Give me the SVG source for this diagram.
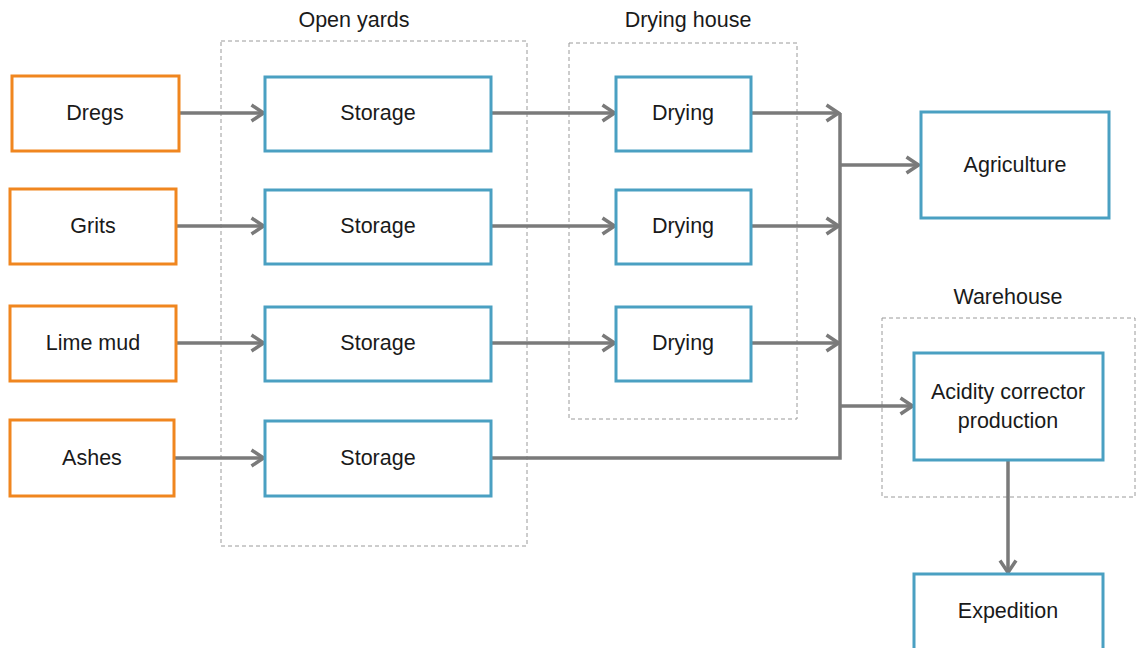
<svg xmlns="http://www.w3.org/2000/svg" width="1140" height="648" viewBox="0 0 1140 648">
  <style>
    .src { fill: #ffffff; stroke: #f0861f; stroke-width: 3; }
    .proc { fill: #ffffff; stroke: #4aa0c2; stroke-width: 3; }
    .zone { fill: none; stroke: #9a9a9a; stroke-width: 1; stroke-dasharray: 4 3; }
    .lbl { font-family: "Liberation Sans", Arial, sans-serif; font-size: 21.5px; fill: #1a1a1a; text-anchor: middle; dominant-baseline: central; }
    .conn { fill: none; stroke: #7a7a7a; stroke-width: 3.5; }
    .arr { marker-end: url(#chev); }
  </style>
  <defs>
    <marker id="chev" viewBox="0 0 16 20" refX="14.5" refY="10" markerWidth="16" markerHeight="20" markerUnits="userSpaceOnUse" orient="auto">
      <path d="M2,2 L14,10 L2,18" fill="none" stroke="#7a7a7a" stroke-width="3.5" stroke-linejoin="miter"/>
    </marker>
  </defs>
  <rect width="1140" height="648" fill="#ffffff"/>

  <!-- zones -->
  <g id="open-yards">
    <rect class="zone" x="221" y="41" width="306" height="505"/>
    <text class="lbl" x="354" y="20">Open yards</text>
  </g>
  <g id="drying-house">
    <rect class="zone" x="569" y="43" width="228" height="376"/>
    <text class="lbl" x="688" y="20">Drying house</text>
  </g>
  <g id="warehouse">
    <rect class="zone" x="882" y="318" width="253" height="179"/>
    <text class="lbl" x="1008" y="297">Warehouse</text>
  </g>

  <!-- connectors -->
  <g id="connectors">
    <line class="conn arr" x1="179" y1="113" x2="264" y2="113"/>
    <line class="conn arr" x1="176" y1="226" x2="264" y2="226"/>
    <line class="conn arr" x1="176" y1="343" x2="264" y2="343"/>
    <line class="conn arr" x1="174" y1="458" x2="264" y2="458"/>
    <line class="conn arr" x1="491" y1="113" x2="615" y2="113"/>
    <line class="conn arr" x1="491" y1="226" x2="615" y2="226"/>
    <line class="conn arr" x1="491" y1="343" x2="615" y2="343"/>
    <line class="conn arr" x1="751" y1="113" x2="839" y2="113"/>
    <line class="conn arr" x1="751" y1="226" x2="839" y2="226"/>
    <line class="conn arr" x1="751" y1="343" x2="839" y2="343"/>
    <polyline class="conn" points="491,458 840,458 840,113"/>
    <line class="conn arr" x1="840" y1="165" x2="919" y2="165"/>
    <line class="conn arr" x1="840" y1="406" x2="913" y2="406"/>
    <line class="conn arr" x1="1008" y1="460" x2="1008" y2="573"/>
  </g>

  <!-- sources -->
  <g id="dregs"><rect class="src" x="12" y="76" width="167" height="75"/><text class="lbl" x="95" y="113">Dregs</text></g>
  <g id="grits"><rect class="src" x="10" y="189" width="166" height="75"/><text class="lbl" x="93" y="226">Grits</text></g>
  <g id="lime-mud"><rect class="src" x="10" y="306" width="166" height="75"/><text class="lbl" x="93" y="343">Lime mud</text></g>
  <g id="ashes"><rect class="src" x="10" y="420" width="164" height="76"/><text class="lbl" x="92" y="458">Ashes</text></g>

  <!-- storage -->
  <g id="storage-1"><rect class="proc" x="265" y="77" width="226" height="74"/><text class="lbl" x="378" y="113">Storage</text></g>
  <g id="storage-2"><rect class="proc" x="265" y="190" width="226" height="74"/><text class="lbl" x="378" y="226">Storage</text></g>
  <g id="storage-3"><rect class="proc" x="265" y="307" width="226" height="74"/><text class="lbl" x="378" y="343">Storage</text></g>
  <g id="storage-4"><rect class="proc" x="265" y="421" width="226" height="75"/><text class="lbl" x="378" y="458">Storage</text></g>

  <!-- drying -->
  <g id="drying-1"><rect class="proc" x="616" y="77" width="135" height="74"/><text class="lbl" x="683" y="113">Drying</text></g>
  <g id="drying-2"><rect class="proc" x="616" y="190" width="135" height="74"/><text class="lbl" x="683" y="226">Drying</text></g>
  <g id="drying-3"><rect class="proc" x="616" y="307" width="135" height="74"/><text class="lbl" x="683" y="343">Drying</text></g>

  <!-- outputs -->
  <g id="agriculture"><rect class="proc" x="921" y="112" width="188" height="106"/><text class="lbl" x="1015" y="165">Agriculture</text></g>
  <g id="acidity-corrector"><rect class="proc" x="914" y="353" width="189" height="107"/>
    <text class="lbl" x="1008" y="392">Acidity corrector</text>
    <text class="lbl" x="1008" y="421">production</text>
  </g>
  <g id="expedition"><rect class="proc" x="914" y="574" width="189" height="76"/><text class="lbl" x="1008" y="611">Expedition</text></g>
</svg>
